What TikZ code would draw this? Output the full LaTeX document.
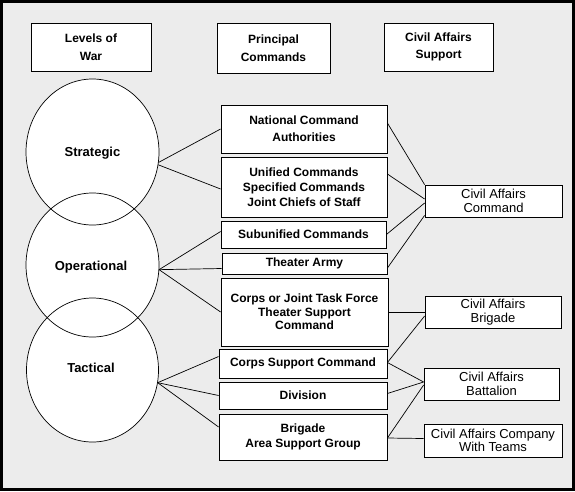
\documentclass[tikz,border=0pt]{standalone}
\usepackage{fontspec}
\setmainfont{Liberation Sans}
\usetikzlibrary{shapes.geometric}
\definecolor{bg}{RGB}{236,236,236}
\begin{document}
\begin{tikzpicture}[x=1pt,y=-1pt,
  box/.style={draw, fill=white, line width=0.8pt, inner sep=0pt, align=center,
    font=\bfseries\fontsize{12}{15}\selectfont},
  cabox/.style={draw, fill=white, line width=0.8pt, inner sep=0pt, align=center,
    font=\fontsize{13}{14}\selectfont},
  lvl/.style={ellipse, fill=white, inner sep=0pt,
    minimum width=133pt, minimum height=146pt},
  lvllbl/.style={font=\bfseries\fontsize{13}{15}\selectfont},
  rim/.style={line width=0.7pt},
  conn/.style={line width=0.7pt}]
\useasboundingbox (0,0) rectangle (575,491);
\fill[bg] (0,0) rectangle (575,491);

% headers
\node[box, minimum width=120pt, minimum height=48pt, font=\bfseries\fontsize{12}{18}\selectfont] (lvlhdr) at (91,47) {Levels of\\War};
\node[box, minimum width=113pt, minimum height=50pt, font=\bfseries\fontsize{12}{18}\selectfont] (pchdr) at (273.5,48) {Principal\\Commands};
\node[box, minimum width=109pt, minimum height=48pt, font=\bfseries\fontsize{12}{17}\selectfont] (cahdr) at (438.5,47) {Civil Affairs\\Support};

% levels of war
\node[lvl] (strat) at (92.5,152) {};
\node[lvl, minimum height=144pt] (op) at (92.5,265) {};
\node[lvl, minimum height=144pt, minimum width=132pt] (tac) at (92.5,370) {};
\draw[rim] (strat.center) ellipse [x radius=66.5, y radius=73];
\draw[rim] (op.center) ellipse [x radius=66.5, y radius=72];
\draw[rim] (tac.center) ellipse [x radius=66, y radius=72];
\node[lvllbl] (stratlbl) at (92.5,153) {Strategic};
\node[lvllbl] (oplbl) at (91,267) {Operational};
\node[lvllbl] (taclbl) at (91,368) {Tactical};

% principal commands
\node[box, minimum width=166pt, minimum height=48pt, font=\bfseries\fontsize{12}{17}\selectfont] (nca) at (304,129) {National Command\\Authorities};
\node[box, minimum width=166pt, minimum height=60pt] (uni) at (304,187) {Unified Commands\\Specified Commands\\Joint Chiefs of Staff};
\node[box, minimum width=165pt, minimum height=27pt] (sub) at (303.5,234.5) {Subunified Commands};
\node[box, minimum width=165pt, minimum height=21pt] (ta) at (304.5,263.5) {Theater Army};
\node[box, minimum width=167pt, minimum height=68pt, font=\bfseries\fontsize{12}{13.5}\selectfont] (jtf) at (304.5,312) {Corps or Joint Task Force\\Theater Support\\Command};
\node[box, minimum width=168pt, minimum height=29pt] (csc) at (303,363.5) {Corps Support Command};
\node[box, minimum width=168pt, minimum height=27pt] (div) at (303,395.5) {Division};
\node[box, minimum width=168pt, minimum height=46pt] (bde) at (303,437) {Brigade\\Area Support Group};

% civil affairs support
\node[cabox, minimum width=137pt, minimum height=32pt] (cac) at (493.5,201) {Civil Affairs\\Command};
\node[cabox, minimum width=136pt, minimum height=32pt] (cab) at (493,312) {Civil Affairs\\Brigade};
\node[cabox, minimum width=135pt, minimum height=32pt] (cabn) at (491.5,384) {Civil Affairs\\Battalion};
\node[cabox, minimum width=138pt, minimum height=33pt, font=\fontsize{13}{13}\selectfont] (caco) at (493,440.5) {Civil Affairs Company\\With Teams};

% left connectors
\draw[conn] (strat.-9) -- (nca.west);
\draw[conn] (strat.-11) -- ([yshift=-2pt]uni.west);
\draw[conn] (op.-4) -- ([yshift=3pt]sub.west);
\draw[conn] (op.-4) -- ([yshift=-5pt]ta.west);
\draw[conn] (op.-4) -- (jtf.west);
\draw[conn] (tac.-11) -- ([yshift=7pt]csc.west);
\draw[conn] (tac.-11) -- (div.west);
\draw[conn] (tac.-11) -- ([yshift=10pt]bde.west);

% right connectors
\draw[conn] ([yshift=6pt]nca.east) -- (cac.north west);
\draw[conn] ([yshift=13pt]uni.east) -- ([yshift=2pt]cac.west);
\draw[conn] (sub.east) -- ([yshift=-2pt]cac.west);
\draw[conn] ([yshift=-4.5pt]ta.east) -- ([yshift=2pt]cac.south west);
\draw[conn] (jtf.east) -- (cab.west);
\draw[conn] ([yshift=1pt]csc.east) -- ([yshift=-4pt]cab.west);
\draw[conn] ([yshift=1pt]csc.east) -- ([yshift=2pt]cabn.west);
\draw[conn] ([yshift=2pt]div.east) -- ([yshift=2pt]cabn.west);
\draw[conn] ([yshift=-1pt]bde.east) -- ([yshift=-1pt]cabn.west);
\draw[conn] ([yshift=-1pt]bde.east) -- ([yshift=2pt]caco.west);

% frame
\draw[line width=3pt] (1.5,1.5) rectangle (573.5,489.5);
\end{tikzpicture}
\end{document}
